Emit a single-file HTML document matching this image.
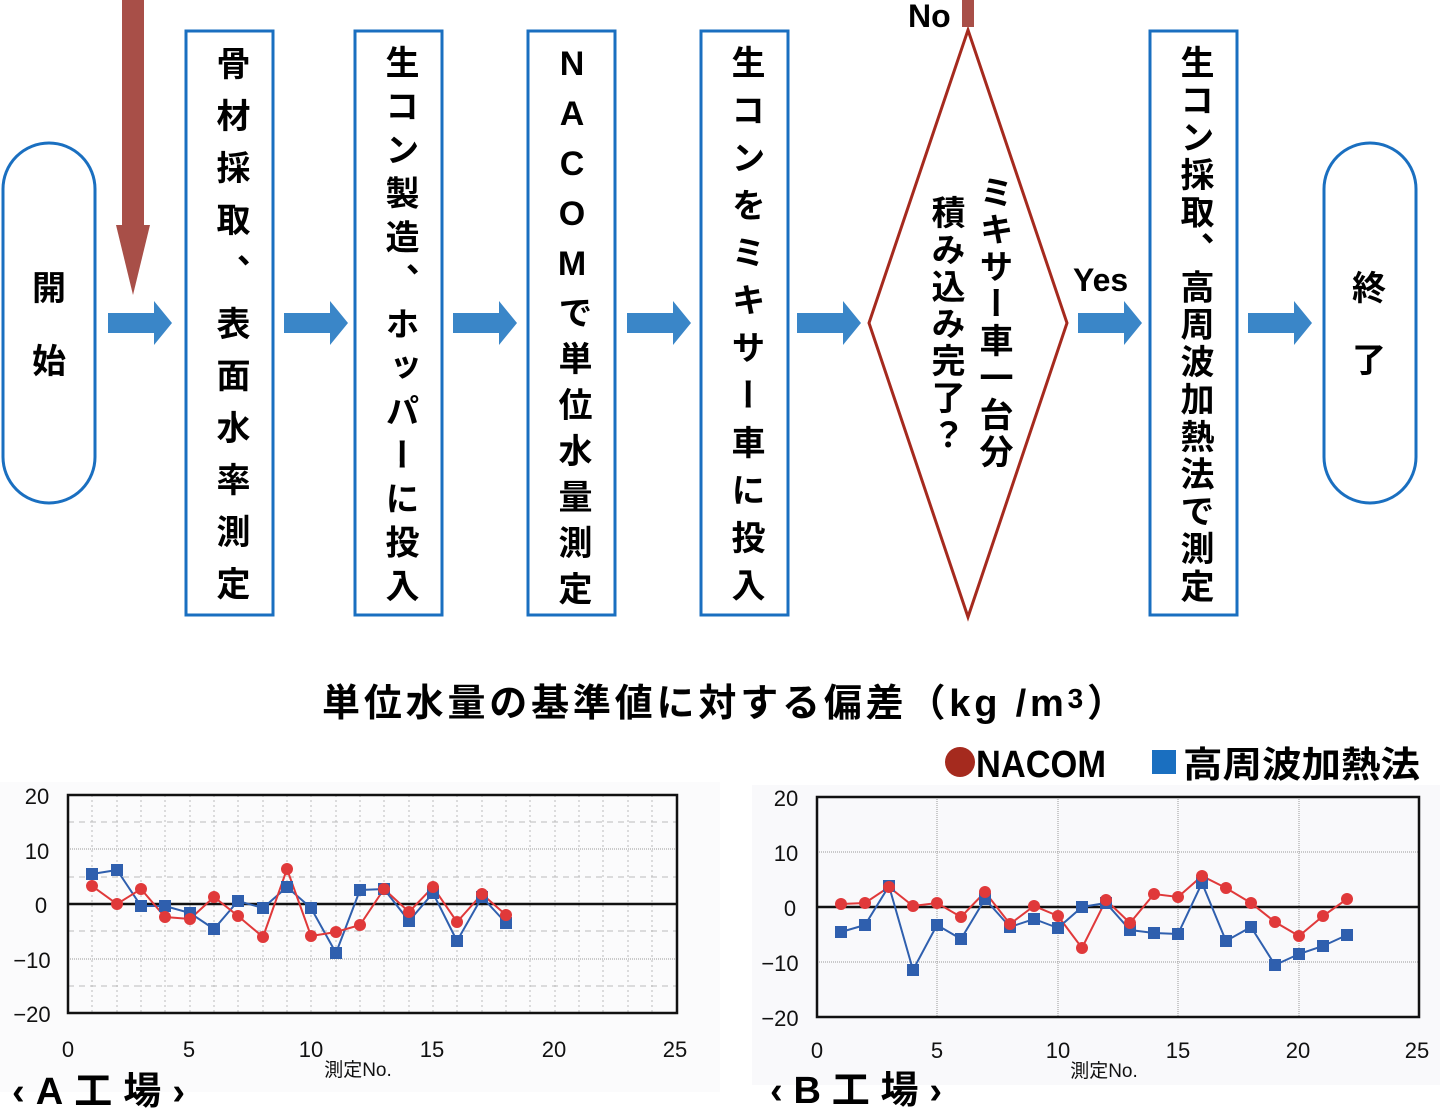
<!DOCTYPE html>
<html><head><meta charset="utf-8">
<style>
html,body{margin:0;padding:0;background:#fff;}
body{width:1440px;height:1118px;position:relative;overflow:hidden;font-family:"Liberation Sans","Noto Sans CJK JP",sans-serif;}
.v{position:absolute;writing-mode:vertical-rl;text-orientation:upright;font-family:"Liberation Sans","Noto Sans CJK JP",sans-serif;font-size:34px;font-weight:bold;color:#000;line-height:1;transform:translateX(-50%);white-space:nowrap;}
svg{position:absolute;left:0;top:0;}
</style></head><body>
<svg width="1440" height="1118" viewBox="0 0 1440 1118" font-family="Liberation Sans, Noto Sans CJK JP, sans-serif">
<rect x="3" y="143" width="92" height="360" rx="46" fill="#fff" stroke="#1a6fc0" stroke-width="3"/>
<rect x="1324" y="143" width="92" height="360" rx="46" fill="#fff" stroke="#1a6fc0" stroke-width="3"/>
<g fill="#fff" stroke="#1a6fc0" stroke-width="3">
<rect x="186" y="31" width="87" height="584"/>
<rect x="355" y="31" width="87" height="584"/>
<rect x="528" y="31" width="87" height="584"/>
<rect x="701" y="31" width="87" height="584"/>
<rect x="1150" y="31" width="87" height="584"/>
</g>
<polygon points="968,30 1067,323 968,617 869,323" fill="#fff" stroke="#a52a1e" stroke-width="3"/>
<rect x="962" y="0" width="12" height="27" fill="#a84f48"/>
<text x="908" y="27" font-size="32" font-weight="bold">No</text>
<text x="1073" y="291" font-size="32" font-weight="bold">Yes</text>
<rect x="122" y="0" width="22" height="225" fill="#a84f48"/>
<polygon points="116,225 150,225 133,295" fill="#a84f48"/>
<g fill="#3a86c8">
<path d="M108,313 H154 V301 L172,323 L154,345 V333 H108 Z"/>
<path d="M284,313 H330 V301 L348,323 L330,345 V333 H284 Z"/>
<path d="M453,313 H499 V301 L517,323 L499,345 V333 H453 Z"/>
<path d="M627,313 H673 V301 L691,323 L673,345 V333 H627 Z"/>
<path d="M797,313 H843 V301 L861,323 L843,345 V333 H797 Z"/>
<path d="M1078,313 H1124 V301 L1142,323 L1124,345 V333 H1078 Z"/>
<path d="M1248,313 H1294 V301 L1312,323 L1294,345 V333 H1248 Z"/>
</g>
<text x="49" y="300" font-size="34" font-weight="bold" text-anchor="middle">開</text>
<text x="49" y="373" font-size="34" font-weight="bold" text-anchor="middle">始</text>
<text x="1369" y="300" font-size="34" font-weight="bold" text-anchor="middle">終</text>
<text x="1369" y="372" font-size="34" font-weight="bold" text-anchor="middle">了</text>

<text x="322" y="716" font-size="38" font-weight="bold" textLength="803" lengthAdjust="spacing">単位水量の基準値に対する偏差（kg /m<tspan font-size="28" dy="-8">3</tspan><tspan dy="8">）</tspan></text>
<circle cx="960" cy="762" r="15" fill="#a52a1e"/>
<text x="976" y="777" font-size="38" font-weight="bold" textLength="130" lengthAdjust="spacingAndGlyphs">NACOM</text>
<rect x="1152" y="750" width="24" height="24" fill="#1a6fc0"/>
<text x="1183" y="777" font-size="36" font-weight="bold" textLength="237" lengthAdjust="spacingAndGlyphs">高周波加熱法</text>

<rect x="0" y="782" width="720" height="310" fill="#fbfbfc"/>
<g stroke="#bbb" stroke-width="1" stroke-dasharray="2,3">
<line x1="92" y1="795" x2="92" y2="1013"/><line x1="117" y1="795" x2="117" y2="1013"/><line x1="141" y1="795" x2="141" y2="1013"/><line x1="165" y1="795" x2="165" y2="1013"/><line x1="190" y1="795" x2="190" y2="1013"/><line x1="214" y1="795" x2="214" y2="1013"/><line x1="238" y1="795" x2="238" y2="1013"/><line x1="263" y1="795" x2="263" y2="1013"/><line x1="287" y1="795" x2="287" y2="1013"/><line x1="311" y1="795" x2="311" y2="1013"/><line x1="336" y1="795" x2="336" y2="1013"/><line x1="360" y1="795" x2="360" y2="1013"/><line x1="384" y1="795" x2="384" y2="1013"/><line x1="409" y1="795" x2="409" y2="1013"/><line x1="433" y1="795" x2="433" y2="1013"/><line x1="457" y1="795" x2="457" y2="1013"/><line x1="482" y1="795" x2="482" y2="1013"/><line x1="506" y1="795" x2="506" y2="1013"/><line x1="530" y1="795" x2="530" y2="1013"/><line x1="555" y1="795" x2="555" y2="1013"/><line x1="579" y1="795" x2="579" y2="1013"/><line x1="603" y1="795" x2="603" y2="1013"/><line x1="628" y1="795" x2="628" y2="1013"/><line x1="652" y1="795" x2="652" y2="1013"/>
<line x1="68" y1="822" x2="677" y2="822" stroke-dasharray="6,5"/><line x1="68" y1="877" x2="677" y2="877" stroke-dasharray="6,5"/><line x1="68" y1="931" x2="677" y2="931" stroke-dasharray="6,5"/><line x1="68" y1="986" x2="677" y2="986" stroke-dasharray="6,5"/>
<line x1="68" y1="849" x2="677" y2="849" stroke-dasharray="1,1" stroke="#999"/><line x1="68" y1="959" x2="677" y2="959" stroke-dasharray="1,1" stroke="#999"/>
</g>
<line x1="68" y1="904" x2="677" y2="904" stroke="#111" stroke-width="2.5"/>
<rect x="68" y="795" width="609" height="218" fill="none" stroke="#111" stroke-width="2.5"/>
<g font-size="22" text-anchor="middle" fill="#111">
<text x="37" y="804">20</text><text x="37" y="859">10</text><text x="41" y="913">0</text><text x="32" y="968">−10</text><text x="32" y="1022">−20</text>
<text x="68" y="1057">0</text><text x="189" y="1057">5</text><text x="311" y="1057">10</text><text x="432" y="1057">15</text><text x="554" y="1057">20</text><text x="675" y="1057">25</text>
<text x="358" y="1076" font-size="19">測定No.</text>
</g>
<text x="12" y="1104" font-size="38" font-weight="bold" textLength="173" lengthAdjust="spacing">‹A工場›</text>
<polyline fill="none" stroke="#2f5fae" stroke-width="2" points="92,874 117,870 141,906 165,906 190,913 214,929 238,901 263,908 287,887 311,908 336,953 360,890 384,889 409,921 433,893 457,941 482,897 506,923"/>
<polyline fill="none" stroke="#e0393a" stroke-width="2" points="92,886 117,904 141,889 165,917 190,919 214,897 238,916 263,937 287,869 311,936 336,932 360,925 384,889 409,912 433,887 457,922 482,894 506,915"/>
<g fill="#2f5fae">
<rect x="86" y="868" width="12" height="12"/><rect x="111" y="864" width="12" height="12"/><rect x="135" y="900" width="12" height="12"/><rect x="159" y="900" width="12" height="12"/><rect x="184" y="907" width="12" height="12"/><rect x="208" y="923" width="12" height="12"/><rect x="232" y="895" width="12" height="12"/><rect x="257" y="902" width="12" height="12"/><rect x="281" y="881" width="12" height="12"/><rect x="305" y="902" width="12" height="12"/><rect x="330" y="947" width="12" height="12"/><rect x="354" y="884" width="12" height="12"/><rect x="378" y="883" width="12" height="12"/><rect x="403" y="915" width="12" height="12"/><rect x="427" y="887" width="12" height="12"/><rect x="451" y="935" width="12" height="12"/><rect x="476" y="891" width="12" height="12"/><rect x="500" y="917" width="12" height="12"/>
</g>
<g fill="#e0393a">
<circle cx="92" cy="886" r="6"/><circle cx="117" cy="904" r="6"/><circle cx="141" cy="889" r="6"/><circle cx="165" cy="917" r="6"/><circle cx="190" cy="919" r="6"/><circle cx="214" cy="897" r="6"/><circle cx="238" cy="916" r="6"/><circle cx="263" cy="937" r="6"/><circle cx="287" cy="869" r="6"/><circle cx="311" cy="936" r="6"/><circle cx="336" cy="932" r="6"/><circle cx="360" cy="925" r="6"/><circle cx="384" cy="889" r="6"/><circle cx="409" cy="912" r="6"/><circle cx="433" cy="887" r="6"/><circle cx="457" cy="922" r="6"/><circle cx="482" cy="894" r="6"/><circle cx="506" cy="915" r="6"/>
</g>

<rect x="752" y="785" width="688" height="300" fill="#f9f9fb"/>
<g stroke="#999" stroke-width="1" stroke-dasharray="1,1">
<line x1="937" y1="797" x2="937" y2="1017"/><line x1="1058" y1="797" x2="1058" y2="1017"/><line x1="1178" y1="797" x2="1178" y2="1017"/><line x1="1299" y1="797" x2="1299" y2="1017"/>
<line x1="817" y1="852" x2="1419" y2="852"/><line x1="817" y1="962" x2="1419" y2="962"/>
</g>
<line x1="817" y1="907" x2="1419" y2="907" stroke="#111" stroke-width="2.5"/>
<rect x="817" y="797" width="602" height="220" fill="none" stroke="#111" stroke-width="2.5"/>
<g font-size="22" text-anchor="middle" fill="#111">
<text x="786" y="806">20</text><text x="786" y="861">10</text><text x="790" y="916">0</text><text x="780" y="971">−10</text><text x="780" y="1026">−20</text>
<text x="817" y="1058">0</text><text x="937" y="1058">5</text><text x="1058" y="1058">10</text><text x="1178" y="1058">15</text><text x="1298" y="1058">20</text><text x="1417" y="1058">25</text>
<text x="1104" y="1077" font-size="19">測定No.</text>
</g>
<text x="770" y="1103" font-size="38" font-weight="bold" textLength="172" lengthAdjust="spacing">‹B工場›</text>
<polyline fill="none" stroke="#2f5fae" stroke-width="2" points="841,932 865,925 889,886 913,970 937,925 961,939 985,899 1010,927 1034,919 1058,928 1082,907 1106,903 1130,930 1154,933 1178,934 1202,883 1226,941 1251,927 1275,965 1299,954 1323,946 1347,935"/>
<polyline fill="none" stroke="#e0393a" stroke-width="2" points="841,904 865,903 889,887 913,906 937,903 961,917 985,892 1010,924 1034,906 1058,916 1082,948 1106,900 1130,923 1154,894 1178,897 1202,876 1226,888 1251,903 1275,922 1299,936 1323,916 1347,899"/>
<g fill="#2f5fae">
<rect x="835" y="926" width="12" height="12"/><rect x="859" y="919" width="12" height="12"/><rect x="883" y="880" width="12" height="12"/><rect x="907" y="964" width="12" height="12"/><rect x="931" y="919" width="12" height="12"/><rect x="955" y="933" width="12" height="12"/><rect x="979" y="893" width="12" height="12"/><rect x="1004" y="921" width="12" height="12"/><rect x="1028" y="913" width="12" height="12"/><rect x="1052" y="922" width="12" height="12"/><rect x="1076" y="901" width="12" height="12"/><rect x="1100" y="897" width="12" height="12"/><rect x="1124" y="924" width="12" height="12"/><rect x="1148" y="927" width="12" height="12"/><rect x="1172" y="928" width="12" height="12"/><rect x="1196" y="877" width="12" height="12"/><rect x="1220" y="935" width="12" height="12"/><rect x="1245" y="921" width="12" height="12"/><rect x="1269" y="959" width="12" height="12"/><rect x="1293" y="948" width="12" height="12"/><rect x="1317" y="940" width="12" height="12"/><rect x="1341" y="929" width="12" height="12"/>
</g>
<g fill="#e0393a">
<circle cx="841" cy="904" r="6"/><circle cx="865" cy="903" r="6"/><circle cx="889" cy="887" r="6"/><circle cx="913" cy="906" r="6"/><circle cx="937" cy="903" r="6"/><circle cx="961" cy="917" r="6"/><circle cx="985" cy="892" r="6"/><circle cx="1010" cy="924" r="6"/><circle cx="1034" cy="906" r="6"/><circle cx="1058" cy="916" r="6"/><circle cx="1082" cy="948" r="6"/><circle cx="1106" cy="900" r="6"/><circle cx="1130" cy="923" r="6"/><circle cx="1154" cy="894" r="6"/><circle cx="1178" cy="897" r="6"/><circle cx="1202" cy="876" r="6"/><circle cx="1226" cy="888" r="6"/><circle cx="1251" cy="903" r="6"/><circle cx="1275" cy="922" r="6"/><circle cx="1299" cy="936" r="6"/><circle cx="1323" cy="916" r="6"/><circle cx="1347" cy="899" r="6"/>
</g>
</svg>

<div class="v" style="left:230px;top:46px;letter-spacing:18px;">骨材採取、表面水率測定</div>
<div class="v" style="left:399px;top:45px;letter-spacing:9.6px;">生コン製造、ホッパーに投入</div>
<div class="v" style="left:572px;top:45px;letter-spacing:12px;">NACOMで単位水量測定</div>
<div class="v" style="left:745px;top:45px;letter-spacing:13.5px;">生コンをミキサー車に投入</div>
<div class="v" style="left:1194px;top:45px;letter-spacing:3.4px;">生コン採取、高周波加熱法で測定</div>
<div class="v" style="left:993px;top:175px;letter-spacing:3px;">ミキサー車一台分</div>
<div class="v" style="left:945px;top:195px;letter-spacing:3px;">積み込み完了？</div>
</body></html>
